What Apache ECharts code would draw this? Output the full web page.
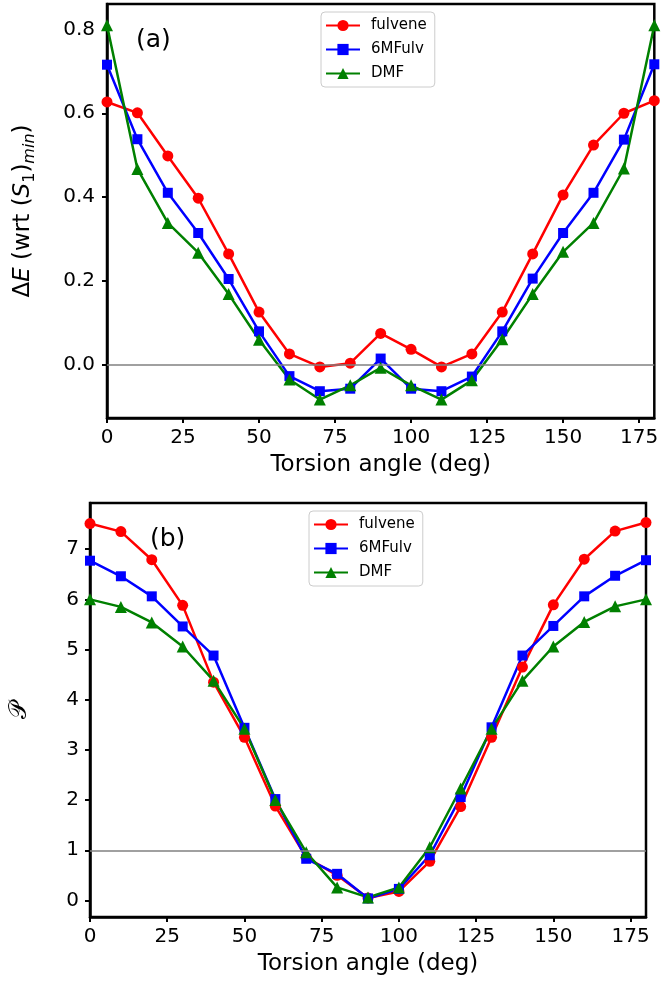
<!DOCTYPE html>
<html>
<head>
<meta charset="utf-8">
<script src="https://cdn.jsdelivr.net/npm/echarts@6/dist/echarts.min.js"></script>
<style>
  html, body { margin: 0; padding: 0; background: #fff; }
  #chart { width: 661px; height: 981px; }
</style>
</head>
<body>
<div id="chart"></div>
<script>
// torsion angles (deg)
const angles = [0, 10, 20, 30, 40, 50, 60, 70, 80, 90, 100, 110, 120, 130, 140, 150, 160, 170, 180]

// (a) energy relative to S1 minimum
const eFulvene = [0.627, 0.601, 0.498, 0.397, 0.264, 0.125, 0.025, -0.006, 0.003, 0.074, 0.036, -0.006, 0.025, 0.125, 0.264, 0.405, 0.524, 0.600, 0.630]
const e6MFulv = [0.716, 0.538, 0.410, 0.314, 0.204, 0.079, -0.028, -0.064, -0.058, 0.014, -0.058, -0.064, -0.029, 0.079, 0.205, 0.314, 0.410, 0.537, 0.717]
const eDMF = [0.810, 0.467, 0.338, 0.267, 0.168, 0.059, -0.036, -0.084, -0.050, -0.008, -0.050, -0.084, -0.038, 0.060, 0.168, 0.269, 0.338, 0.468, 0.810]

// (b) P
const pFulvene = [7.51, 7.35, 6.79, 5.88, 4.35, 3.25, 1.88, 0.86, 0.50, 0.05, 0.18, 0.78, 1.87, 3.25, 4.65, 5.89, 6.80, 7.36, 7.53]
const p6MFulv = [6.77, 6.46, 6.06, 5.46, 4.88, 3.44, 2.02, 0.83, 0.53, 0.04, 0.23, 0.90, 2.06, 3.45, 4.88, 5.47, 6.06, 6.47, 6.78]
const pDMF = [6.00, 5.85, 5.54, 5.06, 4.38, 3.42, 2.00, 0.96, 0.26, 0.06, 0.26, 1.06, 2.23, 3.42, 4.38, 5.06, 5.55, 5.86, 6.00]

// tick labels
const xTicks = [0, 25, 50, 75, 100, 125, 150, 175]
const eTicks = [0, 0.2, 0.4, 0.6, 0.8]
const pTicks = [0, 1, 2, 3, 4, 5, 6, 7]

const names = ['fulvene', '6MFulv', 'DMF']
const colors = ['#ff0000', '#0000ff', '#008000']
const symbols = ['circle', 'rect', 'triangle']

const FONT = 'DejaVu Sans'

function pairs(ys) {
  return angles.map((a, i) => [a, ys[i]])
}

function xAxisFor(gridIndex) {
  return {
    type: 'value',
    gridIndex: gridIndex,
    min: 0,
    max: 180,
    name: 'Torsion angle (deg)',
    nameLocation: 'middle',
    nameGap: 36,
    nameTextStyle: { fontFamily: FONT, fontSize: 23, color: '#000' },
    axisLine: { show: true, onZero: false, lineStyle: { color: '#000', width: 2.5 } },
    axisTick: { show: true, length: 5, lineStyle: { color: '#000', width: 2 }, customValues: xTicks },
    axisLabel: { fontFamily: FONT, fontSize: 20, color: '#000', margin: 10, customValues: xTicks },
    splitLine: { show: false }
  }
}

function seriesFor(gridIndex, datasets, refValue) {
  return datasets.map((ys, i) => {
    const s = {
      name: names[i],
      type: 'line',
      xAxisIndex: gridIndex,
      yAxisIndex: gridIndex,
      data: pairs(ys),
      symbol: symbols[i],
      symbolSize: i === 0 ? 11 : (i === 1 ? 10 : 12),
      itemStyle: { color: colors[i] },
      lineStyle: { color: colors[i], width: 2.5 },
      emphasis: { disabled: true },
      clip: true
    }
    if (i === 0) {
      s.markLine = {
        silent: true,
        symbol: 'none',
        label: { show: false },
        lineStyle: { color: '#808080', width: 1.6, type: 'solid' },
        data: [{ yAxis: refValue }]
      }
    }
    return s
  })
}

function legendFor(left, top) {
  return {
    data: names,
    orient: 'vertical',
    left: left,
    top: top,
    itemWidth: 34,
    itemHeight: 14,
    itemGap: 9,
    padding: [6, 8, 6, 4],
    backgroundColor: 'rgba(255,255,255,0.8)',
    borderColor: '#cccccc',
    borderWidth: 1,
    borderRadius: 4,
    selectedMode: false,
    textStyle: { fontFamily: FONT, fontSize: 15, color: '#000', padding: [0, 0, 0, 6] }
  }
}

const chart = echarts.init(document.getElementById('chart'))

const option = {
  animation: false,
  backgroundColor: '#fff',
  grid: [
    { left: 100, right: 4, top: 4, height: 414, show: true, borderColor: '#000', borderWidth: 2.5, backgroundColor: 'transparent' },
    { left: 87, right: 15, top: 503, height: 414, show: true, borderColor: '#000', borderWidth: 2.5, backgroundColor: 'transparent' }
  ],
  legend: [legendFor(321, 12), legendFor(309, 511)],
  graphic: [
    { type: 'text', left: 136, top: 28, style: { text: '(a)', fontFamily: FONT, fontSize: 25, fill: '#000' } },
    { type: 'text', left: 150, top: 527, style: { text: '(b)', fontFamily: FONT, fontSize: 25, fill: '#000' } }
  ],
  xAxis: [xAxisFor(0), xAxisFor(1)],
  yAxis: [
    {
      type: 'value',
      gridIndex: 0,
      min: -0.128,
      max: 0.861,
      name: 'Δ{i|E} (wrt ({i|S}{sub|1}){subi|min})',
      nameLocation: 'middle',
      nameGap: 69,
      nameTextStyle: {
        fontFamily: FONT, fontSize: 23, color: '#000', lineHeight: 30,
        rich: {
          i: { fontFamily: FONT, fontSize: 23, fontStyle: 'italic', color: '#000', lineHeight: 30 },
          sub: { fontFamily: FONT, fontSize: 16, color: '#000', verticalAlign: 'bottom', lineHeight: 16 },
          subi: { fontFamily: FONT, fontSize: 16, fontStyle: 'italic', color: '#000', verticalAlign: 'bottom', lineHeight: 16 }
        }
      },
      axisLine: { show: true, onZero: false, lineStyle: { color: '#000', width: 2.5 } },
      axisTick: { show: true, length: 5, lineStyle: { color: '#000', width: 2 }, customValues: eTicks },
      axisLabel: { fontFamily: FONT, fontSize: 20, color: '#000', margin: 12, customValues: eTicks, formatter: v => v.toFixed(1) },
      splitLine: { show: false }
    },
    {
      type: 'value',
      gridIndex: 1,
      min: -0.33,
      max: 7.92,
      name: '𝒫',
      nameLocation: 'middle',
      nameGap: 58,
      nameTextStyle: { fontFamily: FONT, fontSize: 24, color: '#000' },
      axisLine: { show: true, onZero: false, lineStyle: { color: '#000', width: 2.5 } },
      axisTick: { show: true, length: 5, lineStyle: { color: '#000', width: 2 }, customValues: pTicks },
      axisLabel: { fontFamily: FONT, fontSize: 20, color: '#000', margin: 11, customValues: pTicks },
      splitLine: { show: false }
    }
  ],
  series: [
    ...seriesFor(0, [eFulvene, e6MFulv, eDMF], 0),
    ...seriesFor(1, [pFulvene, p6MFulv, pDMF], 1)
  ]
}

chart.setOption(option)
</script>
</body>
</html>
